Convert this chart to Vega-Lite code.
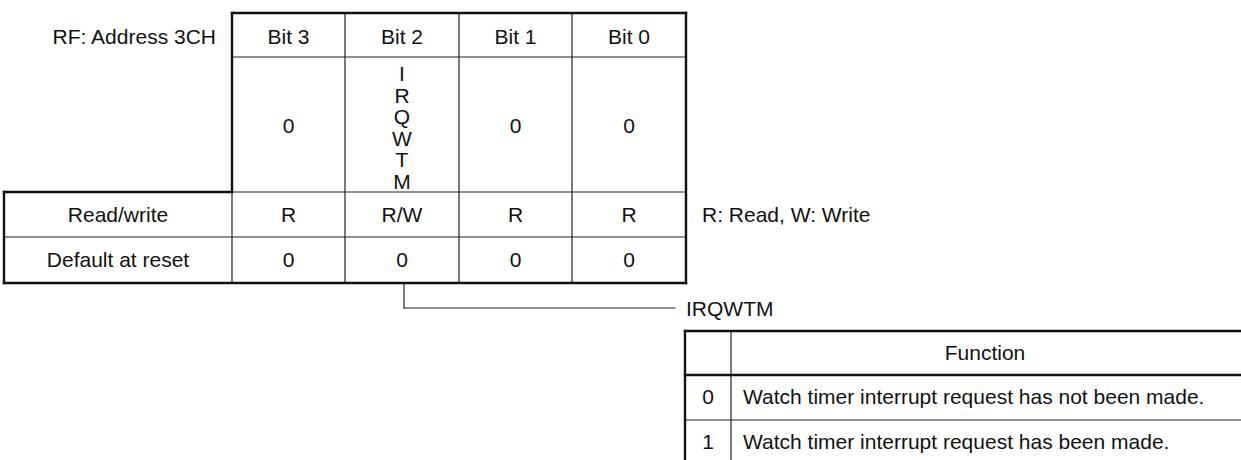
{
  "$schema": "https://vega.github.io/schema/vega-lite/v6.json",
  "width": 1241,
  "height": 460,
  "autosize": {"type": "none"},
  "padding": 0,
  "background": "white",
  "config": {"view": {"stroke": null}, "text": {"font": "Liberation Sans", "fontSize": 21, "color": "#111"}},
  "datasets": {
    "thin": [
      {"x": 232, "y": 57, "x2": 686, "y2": 57},
      {"x": 345, "y": 13, "x2": 345, "y2": 283},
      {"x": 459, "y": 13, "x2": 459, "y2": 283},
      {"x": 572, "y": 13, "x2": 572, "y2": 283},
      {"x": 232, "y": 192, "x2": 686, "y2": 192},
      {"x": 232, "y": 192, "x2": 232, "y2": 283},
      {"x": 4, "y": 237, "x2": 686, "y2": 237},
      {"x": 731, "y": 331, "x2": 731, "y2": 470},
      {"x": 685, "y": 420, "x2": 1250, "y2": 420},
      {"x": 404, "y": 284, "x2": 404, "y2": 308},
      {"x": 404, "y": 308, "x2": 675, "y2": 308}
    ],
    "thick": [
      {"x": 232, "y": 13, "x2": 686, "y2": 13},
      {"x": 232, "y": 13, "x2": 232, "y2": 192},
      {"x": 686, "y": 13, "x2": 686, "y2": 283},
      {"x": 4, "y": 192, "x2": 232, "y2": 192},
      {"x": 4, "y": 192, "x2": 4, "y2": 283},
      {"x": 4, "y": 283, "x2": 686, "y2": 283},
      {"x": 685, "y": 331, "x2": 1250, "y2": 331},
      {"x": 685, "y": 331, "x2": 685, "y2": 470},
      {"x": 685, "y": 375, "x2": 1250, "y2": 375}
    ],
    "center": [
      {"x": 288.5, "y": 38, "t": "Bit 3"},
      {"x": 402, "y": 38, "t": "Bit 2"},
      {"x": 515.5, "y": 38, "t": "Bit 1"},
      {"x": 629, "y": 38, "t": "Bit 0"},
      {"x": 288.5, "y": 127, "t": "0"},
      {"x": 515.5, "y": 127, "t": "0"},
      {"x": 629, "y": 127, "t": "0"},
      {"x": 118, "y": 216, "t": "Read/write"},
      {"x": 288.5, "y": 216, "t": "R"},
      {"x": 402, "y": 216, "t": "R/W"},
      {"x": 515.5, "y": 216, "t": "R"},
      {"x": 629, "y": 216, "t": "R"},
      {"x": 118, "y": 261, "t": "Default at reset"},
      {"x": 288.5, "y": 261, "t": "0"},
      {"x": 402, "y": 261, "t": "0"},
      {"x": 515.5, "y": 261, "t": "0"},
      {"x": 629, "y": 261, "t": "0"},
      {"x": 985, "y": 354, "t": "Function"},
      {"x": 708, "y": 398, "t": "0"},
      {"x": 708, "y": 443, "t": "1"}
    ],
    "left": [
      {"x": 702, "y": 216, "t": "R: Read, W: Write"},
      {"x": 686, "y": 310, "t": "IRQWTM"},
      {"x": 743, "y": 398, "t": "Watch timer interrupt request has not been made."},
      {"x": 743, "y": 443, "t": "Watch timer interrupt request has been made."}
    ],
    "right": [
      {"x": 216, "y": 38, "t": "RF: Address 3CH"}
    ],
    "vertical": [
      {"x": 402, "y": 75, "t": "I\nR\nQ\nW\nT\nM"}
    ]
  },
  "encoding": {
    "x": {"field": "x", "type": "quantitative", "scale": {"domain": [0, 1241], "nice": false, "zero": false}, "axis": null},
    "y": {"field": "y", "type": "quantitative", "scale": {"domain": [0, 460], "nice": false, "zero": false, "reverse": true}, "axis": null}
  },
  "layer": [
    {
      "data": {"name": "thin"},
      "mark": {"type": "rule", "stroke": "#222", "strokeWidth": 1.2, "strokeCap": "square"},
      "encoding": {"x2": {"field": "x2"}, "y2": {"field": "y2"}}
    },
    {
      "data": {"name": "thick"},
      "mark": {"type": "rule", "stroke": "#111", "strokeWidth": 2.4, "strokeCap": "square"},
      "encoding": {"x2": {"field": "x2"}, "y2": {"field": "y2"}}
    },
    {
      "data": {"name": "center"},
      "mark": {"type": "text", "align": "center", "baseline": "middle"},
      "encoding": {"text": {"field": "t"}}
    },
    {
      "data": {"name": "left"},
      "mark": {"type": "text", "align": "left", "baseline": "middle"},
      "encoding": {"text": {"field": "t"}}
    },
    {
      "data": {"name": "right"},
      "mark": {"type": "text", "align": "right", "baseline": "middle"},
      "encoding": {"text": {"field": "t"}}
    },
    {
      "data": {"name": "vertical"},
      "mark": {"type": "text", "align": "center", "baseline": "middle", "lineBreak": "\n", "lineHeight": 21.5},
      "encoding": {"text": {"field": "t"}}
    }
  ]
}
